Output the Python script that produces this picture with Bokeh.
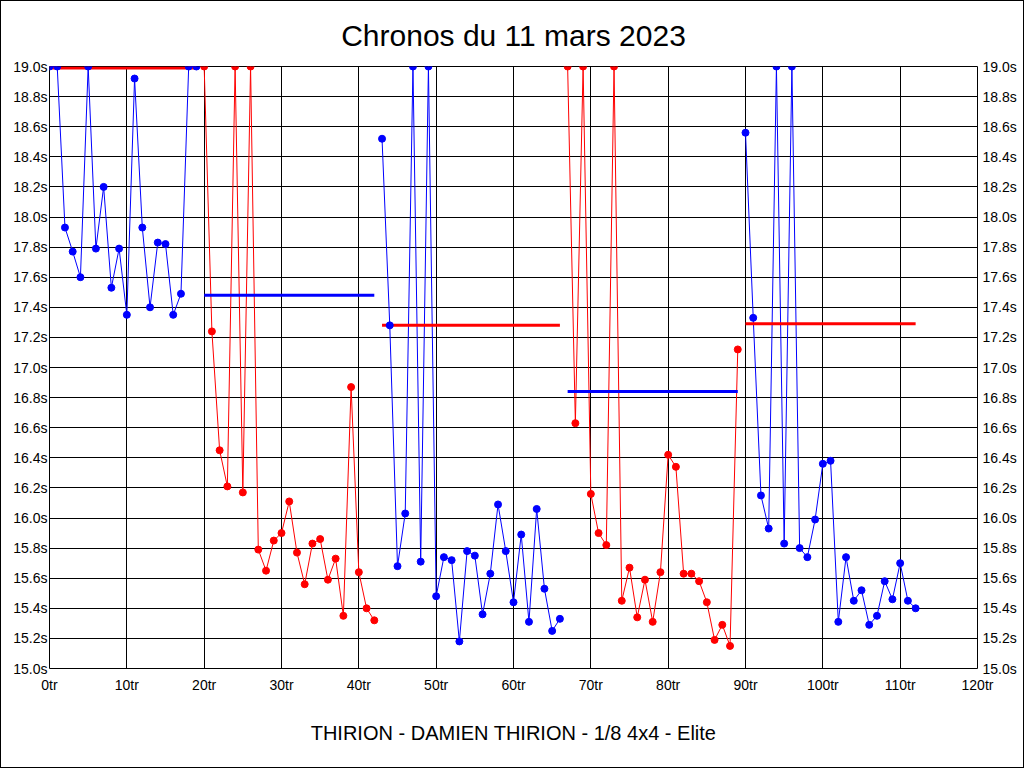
from bokeh.plotting import figure
from bokeh.models import (ColumnDataSource, LinearAxis, FixedTicker, PrintfTickFormatter,
                          Title, Range1d)
from bokeh.embed import file_html
from bokeh.resources import INLINE

# ---------------- data ----------------
title_text = "Chronos du 11 mars 2023"
subtitle_text = "THIRION - DAMIEN THIRION - 1/8 4x4 - Elite"

seg_start_turns = [0, 20, 43, 67, 90]

seg1_times = [19.0, 19.0, 17.93, 17.77, 17.60, 19.0, 17.79, 18.20, 17.53, 17.79,
              17.35, 18.92, 17.93, 17.40, 17.83, 17.82, 17.35, 17.49, 19.0, 19.0]
seg2_times = [19.0, 17.24, 16.45, 16.21, 19.0, 16.17, 19.0, 15.79, 15.65, 15.85,
              15.90, 16.11, 15.77, 15.56, 15.83, 15.86, 15.59, 15.73, 15.35, 16.87,
              15.64, 15.40, 15.32]
seg3_times = [18.52, 17.28, 15.68, 16.03, 19.0, 15.71, 19.0, 15.48, 15.74, 15.72,
              15.18, 15.78, 15.75, 15.36, 15.63, 16.09, 15.78, 15.44, 15.89, 15.31,
              16.06, 15.53, 15.25, 15.33]
seg4_times = [19.0, 16.63, 19.0, 16.16, 15.90, 15.82, 19.0, 15.45, 15.67, 15.34,
              15.59, 15.31, 15.64, 16.42, 16.34, 15.63, 15.63, 15.58, 15.44, 15.19,
              15.29, 15.15, 17.12]
seg5_times = [18.56, 17.33, 16.15, 15.93, 19.0, 15.83, 19.0, 15.80, 15.74, 15.99,
              16.36, 16.38, 15.31, 15.74, 15.45, 15.52, 15.29, 15.35, 15.58, 15.46,
              15.70, 15.45, 15.40]

avg_values = [18.99, 17.48, 17.28, 16.84, 17.29]

x_ticks = [0, 10, 20, 30, 40, 50, 60, 70, 80, 90, 100, 110, 120]
y_ticks = [15.0, 15.2, 15.4, 15.6, 15.8, 16.0, 16.2, 16.4, 16.6, 16.8, 17.0,
           17.2, 17.4, 17.6, 17.8, 18.0, 18.2, 18.4, 18.6, 18.8, 19.0]

segments = [seg1_times, seg2_times, seg3_times, seg4_times, seg5_times]
# ---------------- styling ----------------
BLUE = "#0000FF"
RED = "#FF0000"
series_colors = [BLUE, RED, BLUE, RED, BLUE]
avg_colors = [RED, BLUE, RED, BLUE, RED]
FONT = "Liberation Sans"

p = figure(width=1024, height=768, output_backend="svg", toolbar_location=None,
           x_range=Range1d(0, 120), y_range=Range1d(15.0, 19.0),
           min_border_left=48, min_border_right=48, min_border_top=65, min_border_bottom=101,
           background_fill_color="white", border_fill_color="white")

p.outline_line_color = "black"
p.outline_line_width = 1

p.title.text = title_text
p.title.text_font = FONT
p.title.text_font_size = "30px"
p.title.text_font_style = "normal"
p.title.text_color = "black"
p.title.align = "center"
p.title.standoff = 30

sub = Title(text=subtitle_text, align="center", text_font=FONT, text_color="black",
            text_font_size="20px", text_font_style="normal", standoff=48)
p.add_layout(sub, "below")

# axes
p.xaxis.ticker = FixedTicker(ticks=x_ticks)
p.xaxis.formatter = PrintfTickFormatter(format="%dtr")
p.yaxis.ticker = FixedTicker(ticks=y_ticks)
p.yaxis.formatter = PrintfTickFormatter(format="%.1fs")

yr = LinearAxis(ticker=FixedTicker(ticks=y_ticks), formatter=PrintfTickFormatter(format="%.1fs"))
p.add_layout(yr, "right")

for ax in p.axis:
    ax.axis_line_color = None
    ax.major_tick_line_color = None
    ax.minor_tick_line_color = None
    ax.major_tick_out = 0
    ax.major_tick_in = 0
    ax.minor_tick_out = 0
    ax.minor_tick_in = 0
    ax.major_label_text_font = FONT
    ax.major_label_text_font_size = "14px"
    ax.major_label_text_color = "black"
p.xaxis.major_label_standoff = 8
p.yaxis[0].major_label_standoff = 2
yr.major_label_standoff = 5

p.xgrid.ticker = FixedTicker(ticks=x_ticks)
p.ygrid.ticker = FixedTicker(ticks=y_ticks)
p.grid.grid_line_color = "black"
p.grid.grid_line_alpha = 1.0
p.grid.grid_line_width = 1

p.styles = {"border": "1px solid black", "box-sizing": "border-box"}

sources = []
for start, times in zip(seg_start_turns, segments):
    turns = list(range(start, start + len(times)))
    sources.append(ColumnDataSource(dict(turn=turns, time=times)))

# series lines
for src, col in zip(sources, series_colors):
    p.line("turn", "time", source=src, line_color=col, line_width=1)

# average lines over each segment
for start, times, avg, col in zip(seg_start_turns, segments, avg_values, avg_colors):
    src = ColumnDataSource(dict(turn=[start, start + len(times) - 1], time=[avg, avg]))
    p.line("turn", "time", source=src, line_color=col, line_width=3)

# points
for src, col in zip(sources, series_colors):
    p.scatter("turn", "time", source=src, size=7, fill_color=col, line_color=col)

open("out.html", "w").write(file_html(p, INLINE))
